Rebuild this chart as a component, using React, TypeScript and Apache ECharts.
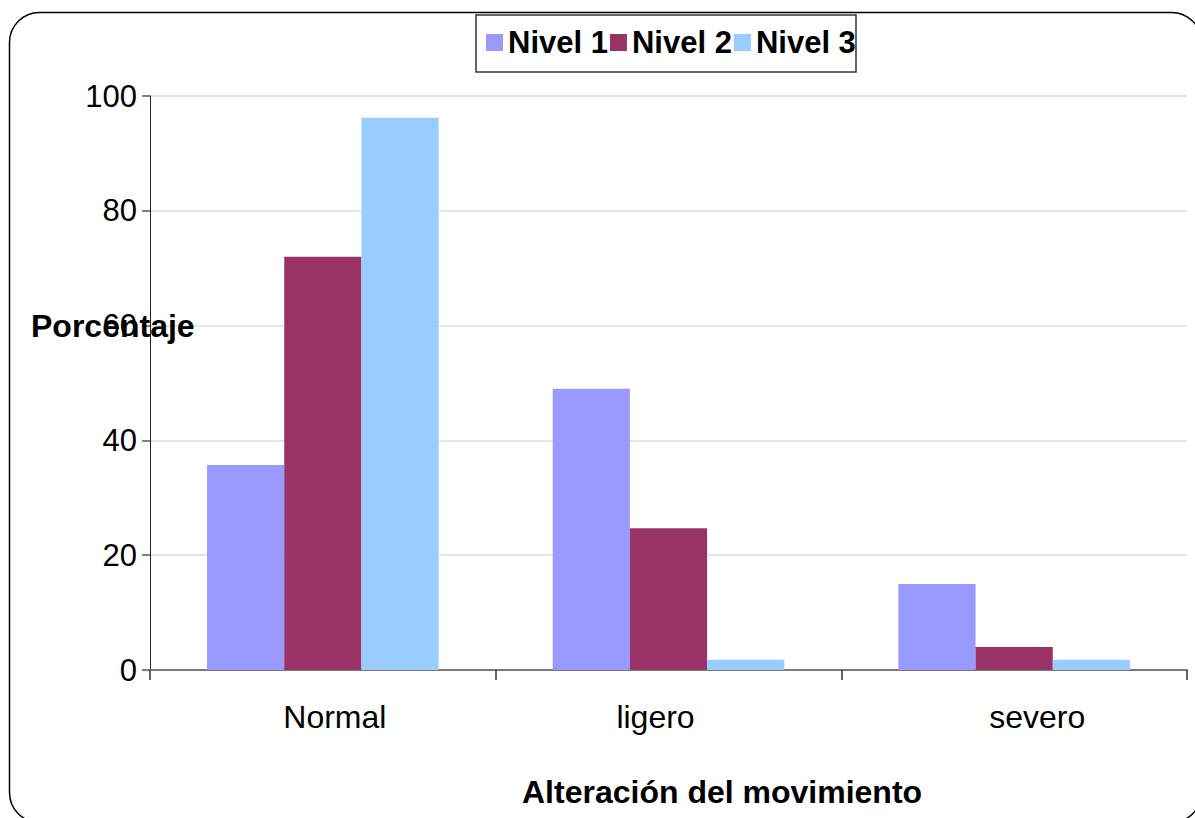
import React, { useEffect, useRef } from "react";
import * as echarts from "echarts";

// Movement alteration categories and the share (%) of each level
const categories = ["Normal", "ligero", "severo"];
const seriesNames = ["Nivel 1", "Nivel 2", "Nivel 3"];
const nivel1 = [35.7, 49, 15];
const nivel2 = [72, 24.7, 4];
const nivel3 = [96.2, 1.8, 1.8];
const yTicks = { min: 0, max: 100, interval: 20 };

const colors = ["#9999FF", "#993366", "#99CCFF"];
const FONT = "'Liberation Sans', Arial, Helvetica, sans-serif";

// Horizontal nudges for the category labels (left, right padding)
const labelPad: Record<string, number[]> = {
  Normal: [0, 0, 0, 24],
  ligero: [0, 26, 0, 0],
  severo: [0, 0, 0, 46],
};

export default function App() {
  const ref = useRef<HTMLDivElement>(null);

  useEffect(() => {
    if (!ref.current) return;
    const chart = echarts.init(ref.current, undefined, { renderer: "svg" });
    const values = [nivel1, nivel2, nivel3];

    const rich: Record<string, any> = {};
    categories.forEach((c) => {
      rich[c] = { fontFamily: FONT, fontSize: 32, color: "#000", padding: labelPad[c] };
    });

    chart.setOption({
      animation: false,
      backgroundColor: "#ffffff",
      textStyle: { fontFamily: FONT },
      grid: { left: 150, right: 8, top: 96, bottom: 148, containLabel: false },
      legend: {
        data: seriesNames,
        left: 486,
        top: 27,
        padding: 0,
        itemWidth: 17,
        itemHeight: 17,
        itemGap: 2,
        icon: "rect",
        textStyle: { fontFamily: FONT, fontSize: 31, fontWeight: "bold", color: "#000" },
      },
      xAxis: {
        type: "category",
        data: categories,
        axisLine: { lineStyle: { color: "#7a7a7a", width: 2 } },
        axisTick: { show: true, length: 10, lineStyle: { color: "#333", width: 1.5 } },
        axisLabel: {
          fontFamily: FONT,
          fontSize: 32,
          color: "#000",
          margin: 31,
          formatter: (v: string) => `{${v}|${v}}`,
          rich,
        },
        splitLine: { show: false },
      },
      yAxis: {
        type: "value",
        min: yTicks.min,
        max: yTicks.max,
        interval: yTicks.interval,
        axisLine: { show: true, lineStyle: { color: "#222", width: 1 } },
        axisTick: { show: true, length: 8, lineStyle: { color: "#555", width: 1.5 } },
        axisLabel: { fontFamily: FONT, fontSize: 31, color: "#000", margin: 13 },
        splitLine: { show: true, lineStyle: { color: "#dcdcdc", width: 1.5 } },
      },
      series: seriesNames.map((name, i) => ({
        name,
        type: "bar",
        data: values[i],
        barGap: "0%",
        barCategoryGap: "33%",
        itemStyle: { color: colors[i] },
      })),
      graphic: [
        {
          type: "rect",
          silent: true,
          z: -1,
          shape: { x: 9.5, y: 12.5, width: 1192, height: 810, r: 30 },
          style: { fill: "none", stroke: "#000", lineWidth: 1.5 },
        },
        {
          type: "rect",
          silent: true,
          z: 0,
          shape: { x: 476, y: 15, width: 380, height: 57 },
          style: { fill: "none", stroke: "#333", lineWidth: 1.5 },
        },
        {
          type: "text",
          left: 31,
          top: 310,
          style: {
            text: "Porcentaje",
            fontFamily: FONT,
            fontSize: 32,
            fontWeight: "bold",
            fill: "#000",
          },
          z: 10,
        },
        {
          type: "text",
          left: 522,
          top: 776,
          style: {
            text: "Alteración del movimiento",
            fontFamily: FONT,
            fontSize: 32,
            fontWeight: "bold",
            fill: "#000",
          },
        },
      ],
    });

    return () => chart.dispose();
  }, []);

  return (
    <div
      ref={ref}
      style={{ position: "fixed", left: 0, top: 0, width: 1195, height: 818 }}
    />
  );
}
